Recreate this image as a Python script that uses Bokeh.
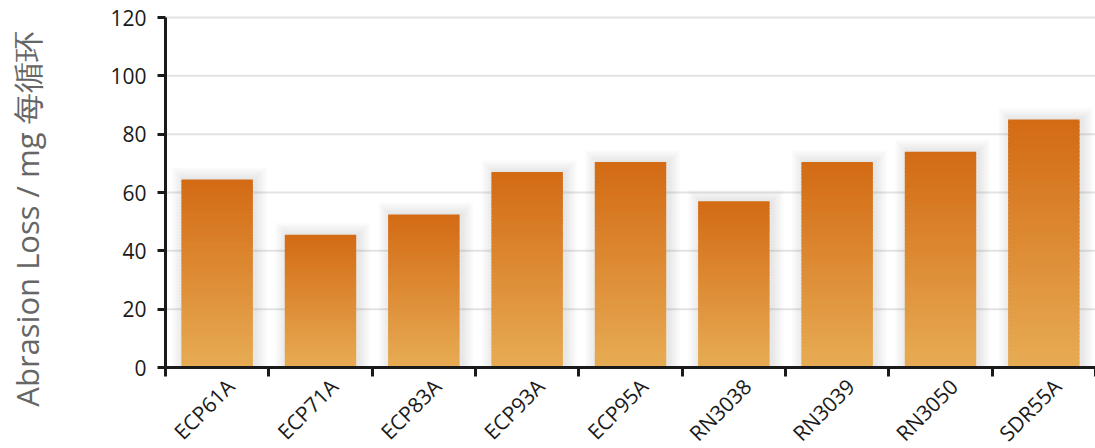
import numpy as np
from math import pi
from bokeh.plotting import figure
from bokeh.models import Range1d, FixedTicker, ColumnDataSource, Label, LabelSet
from bokeh.core.properties import value
from bokeh.embed import file_html
from bokeh.resources import INLINE

categories = ["ECP61A", "ECP71A", "ECP83A", "ECP93A", "ECP95A",
              "RN3038", "RN3039", "RN3050", "SDR55A"]
abrasion_loss = [64.5, 45.5, 52.5, 67, 70.5, 57, 70.5, 74, 85]
y_ticks = [0, 20, 40, 60, 80, 100, 120]
y_label = "Abrasion Loss / mg 每循环"

n = len(categories)
W, H = 1095, 448
# frame covers the whole canvas; axes sit at data 0 via fixed_location
px_x = (W - 165) / n          # pixels per category
px_y = (367 - 17) / 120.0     # pixels per unit
x_range = Range1d(-165 / px_x, n)
y_range = Range1d(-(H - 367) / px_y, 120 + 17 / px_y)

p = figure(width=W, height=H, output_backend="svg", toolbar_location=None,
           x_range=x_range, y_range=y_range,
           min_border_left=0, min_border_right=0, min_border_top=0,
           min_border_bottom=0)
p.outline_line_color = None
p.background_fill_color = "white"
p.grid.visible = False

# horizontal grid lines between the category span
grid_src = ColumnDataSource(dict(y=y_ticks[1:]))
p.segment(x0=0, x1=n, y0="y", y1="y", source=grid_src,
          line_color="#e3e3e3", line_width=2)

centers = [i + 0.5 for i in range(n)]
bar_w = 0.69

# soft shadow behind bars
for k in range(1, 7):
    p.vbar(x=[c + 0.02 for c in centers], width=bar_w + 2 * k * 0.019,
           top=[v + k * 0.68 for v in abrasion_loss], bottom=0,
           fill_color="#777777", fill_alpha=0.03, line_color=None)

# gradient bars built as stacked slices of each value
top_rgb = np.array([211, 106, 20])
bot_rgb = np.array([231, 172, 84])
N = 60
xs, bots, tops, cols = [], [], [], []
for c, v in zip(centers, abrasion_loss):
    for k in range(N):
        t = (k + 0.5) / N
        rgb = bot_rgb * (1 - t) + top_rgb * t
        xs.append(c)
        bots.append(v * k / N)
        tops.append(min(v, v * (k + 1.6) / N))
        cols.append("#%02x%02x%02x" % tuple(int(round(x)) for x in rgb))
src = ColumnDataSource(dict(x=xs, bottom=bots, top=tops, color=cols))
p.vbar(x="x", bottom="bottom", top="top", width=bar_w, fill_color="color",
       line_color=None, source=src)

# axes
axis_color = "#1a1a1a"
for ax in (p.xaxis[0], p.yaxis[0]):
    ax.fixed_location = 0
    ax.axis_line_color = axis_color
    ax.axis_line_width = 3
    ax.major_label_text_font = "Open Sans"
    ax.major_label_text_color = axis_color

yax = p.yaxis[0]
yax.bounds = (0, 120)
yax.ticker = FixedTicker(ticks=y_ticks, minor_ticks=[])
yax.major_tick_line_color = axis_color
yax.major_tick_line_width = 3
yax.major_tick_out = 8
yax.major_tick_in = 0
yax.minor_tick_line_color = None
yax.major_label_text_font_size = "21px"
yax.major_label_standoff = 11

xax = p.xaxis[0]
xax.bounds = (0, n)
xax.ticker = FixedTicker(ticks=[], minor_ticks=list(range(n + 1)))
xax.major_tick_line_color = None
xax.major_tick_out = 0
xax.major_tick_in = 0
xax.minor_tick_line_color = axis_color
xax.minor_tick_line_width = 3
xax.minor_tick_out = 9
xax.minor_tick_in = 0

# category labels, rotated 45 degrees below the axis
label_pos = [c + 0.13 for c in centers]
lab_src = ColumnDataSource(dict(x=label_pos, y=[0] * n, text=categories))
p.add_layout(LabelSet(x="x", y="y", text="text", source=lab_src,
                      angle=pi / 4, y_offset=-15, text_align="right",
                      text_baseline="middle", text_font=value("Open Sans"),
                      text_font_size="21px", text_color=axis_color))

# y-axis title
p.add_layout(Label(x=-1.336, y=50.9, text=y_label, angle=pi / 2,
                   text_align="center", text_baseline="middle",
                   text_font="Open Sans", text_font_size="31px",
                   text_color="#666666"))

open("out.html", "w").write(file_html(p, INLINE))
